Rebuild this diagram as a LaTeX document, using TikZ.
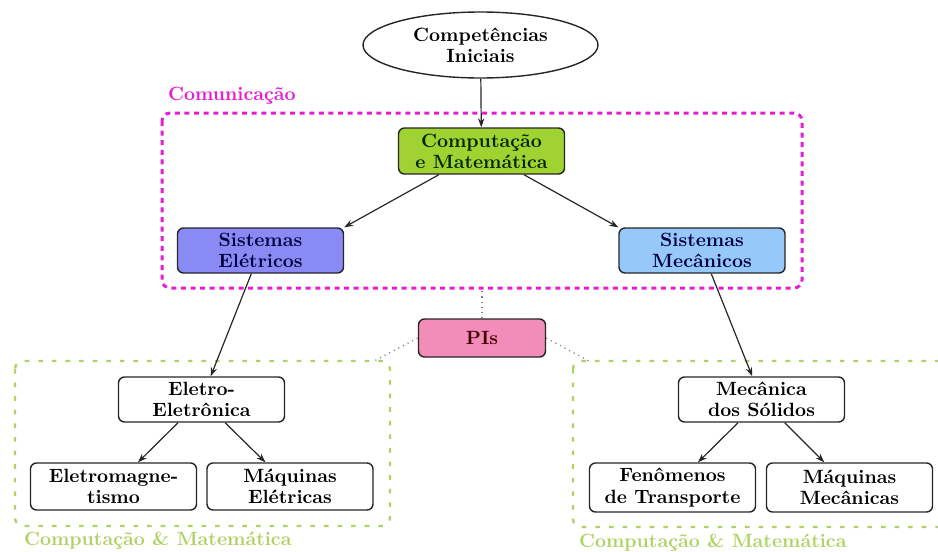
\documentclass[tikz,border=0pt]{standalone}
\usetikzlibrary{shapes.geometric,arrows.meta}
\definecolor{cmgreen}{RGB}{160,210,50}
\definecolor{eletblue}{RGB}{138,138,245}
\definecolor{mecblue}{RGB}{150,200,250}
\definecolor{pipink}{RGB}{242,140,185}
\definecolor{commag}{RGB}{228,30,210}
\definecolor{lightgreen}{RGB}{175,210,100}
\begin{document}
\begin{tikzpicture}[x=0.5pt,y=-0.5pt,
  txt/.style={font=\fontsize{9.6}{10.6}\selectfont\bfseries},
  box/.style={txt, draw=black!85, rounded corners=3pt, line width=0.7pt,
    minimum width=83pt, minimum height=22.5pt, align=center, inner sep=1pt},
  arr/.style={-{Stealth[length=4.5pt,width=3.2pt]}, line width=0.6pt, black!85},
  dotline/.style={gray, dotted, line width=0.6pt},
  magbox/.style={commag, line width=1.5pt, dash pattern=on 2.5pt off 2.3pt, rounded corners=4pt},
  grnbox/.style={lightgreen, line width=1.2pt, dash pattern=on 2.3pt off 4.5pt, rounded corners=4pt}]
\useasboundingbox (0,0) rectangle (938,552);
\clip (0,0) rectangle (938,552);

% group frames
\draw[magbox] (162,113) rectangle (802,288);
\draw[grnbox] (15,361) rectangle (390,526);
\draw[grnbox] (573,361) rectangle (960,527);

\node[txt, text=commag, anchor=west] (lblcom) at (161,96) {Comunicação};
\node[txt, text=lightgreen, anchor=west] (lblcm1) at (17,541) {Computação \& Matemática};
\node[txt, text=lightgreen, anchor=west] (lblcm2) at (572,543) {Computação \& Matemática};

% nodes
\node[txt, ellipse, draw=black!85, line width=0.7pt, align=center, inner sep=0pt,
  minimum width=117.5pt, minimum height=33pt] (ini) at (480.5,45) {Competências\\Iniciais};
\node[box, fill=cmgreen, text=black!85!green, minimum height=23pt] (cm) at (481.5,151) {Computação\\e Matemática};
\node[box, fill=eletblue, text=blue!25!black] (se) at (260.5,250.5) {Sistemas\\Elétricos};
\node[box, fill=mecblue, text=blue!25!black] (sm) at (702,250.5) {Sistemas\\Mecânicos};
\node[box, fill=pipink, text=red!25!black, minimum width=63.5pt, minimum height=19pt] (pi) at (482,338) {PIs};

\node[box] (ee) at (201.5,399.5) {Eletro-\\Eletrônica};
\node[box, minimum height=23.5pt] (em) at (113.5,486.5) {Eletromagne-\\tismo};
\node[box, minimum height=23.5pt] (me) at (290,486.5) {Máquinas\\Elétricas};

\node[box] (ms) at (761.5,399.5) {Mecânica\\dos Sólidos};
\node[box, minimum height=24.5pt] (ft) at (672.5,487.5) {Fenômenos\\de Transporte};
\node[box, minimum height=24.5pt] (mm) at (849.5,487.5) {Máquinas\\Mecânicas};

% connectors
\draw[arr] (ini) -- (cm);
\draw[arr] (cm) -- (se.north east);
\draw[arr] (cm) -- (sm.north west);
\draw[arr] (se) -- (ee);
\draw[arr] (sm) -- (ms);
\draw[arr] (ee) -- (em);
\draw[arr] (ee) -- (me);
\draw[arr] (ms) -- (ft);
\draw[arr] (ms) -- (mm);

% dotted links of PIs
\coordinate (pitop) at (482,288);
\coordinate (pileft) at (374,361);
\coordinate (piright) at (589,361);
\draw[dotline] (pi.north) -- (pitop);
\draw[dotline] (pi.west) -- (pileft);
\draw[dotline] (pi.east) -- (piright);
\end{tikzpicture}
\end{document}
